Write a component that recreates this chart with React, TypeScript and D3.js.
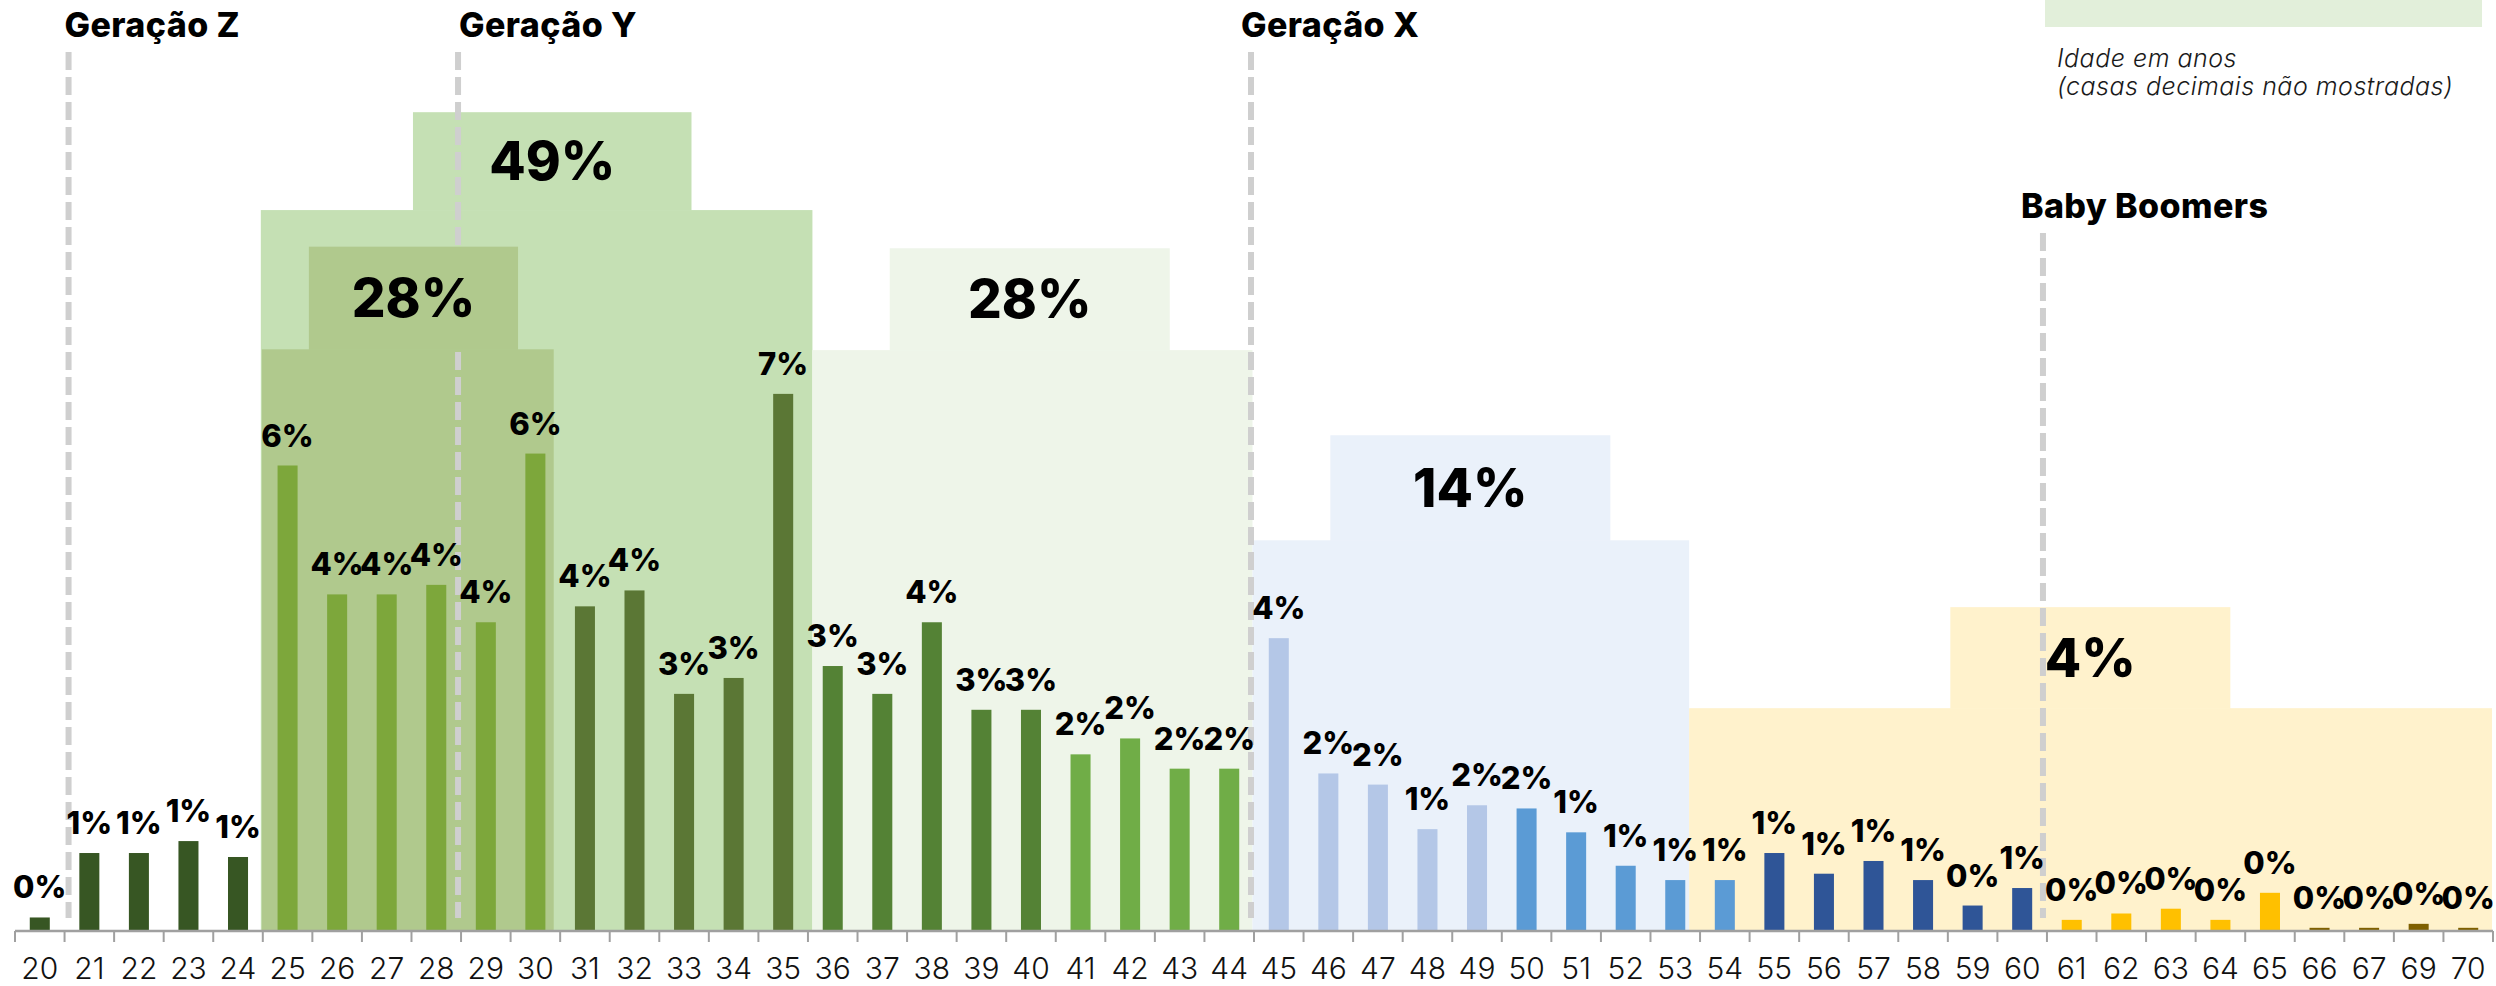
import React from 'react';
import * as d3 from 'd3';

// ---------- DATA ----------
const ages: string[] = [
  '20','21','22','23','24','25','26','27','28','29','30','31','32','33','34','35',
  '36','37','38','39','40','41','42','43','44','45','46','47','48','49','50','51',
  '52','53','54','55','56','57','58','59','60','61','62','63','64','65','66','67','69','70'
];
// share of people per age, in %
const shares: number[] = [
  0.17, 0.98, 0.98, 1.13, 0.93, 5.85, 4.23, 4.23, 4.35, 3.88, 6.0, 4.08, 4.28, 2.98, 3.18, 6.75,
  3.33, 2.98, 3.88, 2.78, 2.78, 2.22, 2.42, 2.04, 2.04, 3.68, 1.98, 1.84, 1.28, 1.58, 1.54, 1.24,
  0.82, 0.64, 0.64, 0.98, 0.72, 0.88, 0.64, 0.32, 0.54, 0.14, 0.22, 0.28, 0.14, 0.48, 0.04, 0.04, 0.09, 0.04
];
const groupTotals: string[] = ['49%', '28%', '28%', '14%', '4%'];
const generations: { name: string; firstAge: string }[] = [
  { name: 'Geração Z', firstAge: '21' },
  { name: 'Geração Y', firstAge: '29' },
  { name: 'Geração X', firstAge: '45' },
  { name: 'Baby Boomers', firstAge: '61' },
];
const noteLines: string[] = ['Idade em anos', '(casas decimais não mostradas)'];

// ---------- STYLE / LAYOUT ----------
const colorRanges = [
  { from: 20, to: 24, color: '#375623' },
  { from: 25, to: 30, color: '#7DA73B' },
  { from: 31, to: 35, color: '#5B7735' },
  { from: 36, to: 40, color: '#548235' },
  { from: 41, to: 44, color: '#70AD47' },
  { from: 45, to: 49, color: '#B4C7E7' },
  { from: 50, to: 54, color: '#5B9BD5' },
  { from: 55, to: 60, color: '#2F5597' },
  { from: 61, to: 65, color: '#FFC000' },
  { from: 66, to: 70, color: '#7F6000' },
];
// stepped background boxes (x in band-edge units, y in % units)
const boxLayout = [
  { fill: '#C5E0B4', base: [4.96, 16.09], cap: [8.03, 13.65], baseTop: 9.06, capTop: 10.29, capOverLines: false },
  { fill: '#B0C98D', base: [4.98, 10.87], cap: [5.93, 10.15], baseTop: 7.31, capTop: 8.6, capOverLines: true },
  { fill: '#EEF5E9', base: [16.09, 24.97], cap: [17.65, 23.3], baseTop: 7.3, capTop: 8.58, capOverLines: false },
  { fill: '#EAF1FA', base: [24.97, 33.78], cap: [26.54, 32.19], baseTop: 4.91, capTop: 6.23, capOverLines: false },
  { fill: '#FFF2CC', base: [33.78, 49.98], cap: [39.05, 44.7], baseTop: 2.8, capTop: 4.07, capOverLines: false },
];
const genLayout = [
  { lineDx: 4, titleDx: 0, titleY: 37, lineTop: 52 },
  { lineDx: -3, titleDx: -2, titleY: 37, lineTop: 52 },
  { lineDx: -3, titleDx: -13, titleY: 37, lineTop: 52 },
  { lineDx: -4, titleDx: -26, titleY: 218, lineTop: 233 },
];

const W = 2496;
const H = 986;
const X0 = 15;
const X1 = 2493;
const BASE = 931;
const FONT = 'Inter, "Open Sans", Lato, sans-serif';

export default function App() {
  const x = d3.scaleBand<string>().domain(ages).range([X0, X1]).paddingInner(0.596).paddingOuter(0.298);
  const step = x.step();
  const edge = (u: number) => X0 + u * step;
  const y = d3.scaleLinear().domain([0, 11.7]).range([BASE, 0]);
  const colorOf = (a: string) => {
    const n = +a;
    const r = colorRanges.find((c) => n >= c.from && n <= c.to);
    return r ? r.color : '#999';
  };
  const fmt = (v: number) => `${Math.round(v)}%`;

  const boxBase = (b: typeof boxLayout[number], i: number) => (
    <rect key={'b' + i} x={edge(b.base[0])} y={y(b.baseTop)} width={edge(b.base[1]) - edge(b.base[0])}
      height={BASE - y(b.baseTop)} fill={b.fill} />
  );
  const boxCap = (b: typeof boxLayout[number], i: number) => (
    <rect key={'c' + i} x={edge(b.cap[0])} y={y(b.capTop)} width={edge(b.cap[1]) - edge(b.cap[0])}
      height={y(b.baseTop) - y(b.capTop) + 0.5} fill={b.fill} />
  );

  const edges = d3.range(ages.length + 1);
  const genEdge = (g: { firstAge: string }) => (x(g.firstAge) as number) - step * 0.298;

  return (
    <div style={{ position: 'absolute', left: 0, top: 0, width: W, height: H, overflow: 'hidden', background: '#fff' }}>
      <svg width={W} height={H} style={{ display: 'block' }} fontFamily={FONT}>
        <rect x={0} y={0} width={W} height={H} fill="#fff" />
        {/* note box */}
        <rect x={2045} y={0} width={437} height={27} fill="#E2EFDA" />
        {noteLines.map((t, i) => (
          <text key={t} x={2057} y={67 + i * 28} fontSize={25} letterSpacing={0.5} fontStyle="italic" fontWeight={300} fill="#1a1a1a">{t}</text>
        ))}

        {/* background boxes */}
        {boxLayout.map((b, i) => (
          <g key={'g' + i}>
            {boxBase(b, i)}
            {!b.capOverLines && boxCap(b, i)}
          </g>
        ))}

        {/* generation dashed lines */}
        {generations.map((g, i) => {
          const lx = genEdge(g) + genLayout[i].lineDx;
          return (
            <line key={g.name} x1={lx} x2={lx} y1={genLayout[i].lineTop} y2={918}
              stroke="#CFCFCF" strokeWidth={6} strokeDasharray="18 7" />
          );
        })}
        {boxLayout.map((b, i) => (b.capOverLines ? boxCap(b, i) : null))}

        {/* bars */}
        {ages.map((a, i) => (
          <rect key={a} x={x(a)} y={y(shares[i])} width={x.bandwidth()} height={BASE - y(shares[i])} fill={colorOf(a)} />
        ))}

        {/* axis */}
        <line x1={X0} x2={X1} y1={BASE} y2={BASE} stroke="#A0A0A0" strokeWidth={2.5} />
        {edges.map((e) => (
          <line key={'t' + e} x1={edge(e)} x2={edge(e)} y1={BASE} y2={BASE + 11} stroke="#A0A0A0" strokeWidth={2} />
        ))}
        {ages.map((a) => (
          <text key={'l' + a} x={(x(a) as number) + x.bandwidth() / 2} y={979} textAnchor="middle"
            fontSize={30} fontWeight={300} fill="#111">{a}</text>
        ))}

        {/* bar value labels */}
        {ages.map((a, i) => (
          <text key={'v' + a} x={(x(a) as number) + x.bandwidth() / 2} y={y(shares[i]) - 19} textAnchor="middle"
            fontSize={31} fontWeight={800} fill="#000">{fmt(shares[i])}</text>
        ))}

        {/* group totals */}
        {boxLayout.map((b, i) => {
          const cx = (edge(b.cap[0]) + edge(b.cap[1])) / 2;
          const cy = (y(b.capTop) + y(b.baseTop)) / 2;
          return (
            <text key={'tot' + i} x={cx} y={cy + 19} textAnchor="middle" fontSize={53} fontWeight={800} fill="#000">
              {groupTotals[i]}
            </text>
          );
        })}

        {/* generation titles */}
        {generations.map((g, i) => (
          <text key={'gt' + g.name} x={genEdge(g) + genLayout[i].titleDx} y={genLayout[i].titleY}
            fontSize={34} fontWeight={800} letterSpacing={0.4} fill="#000">
            {g.name}
          </text>
        ))}
      </svg>
    </div>
  );
}
